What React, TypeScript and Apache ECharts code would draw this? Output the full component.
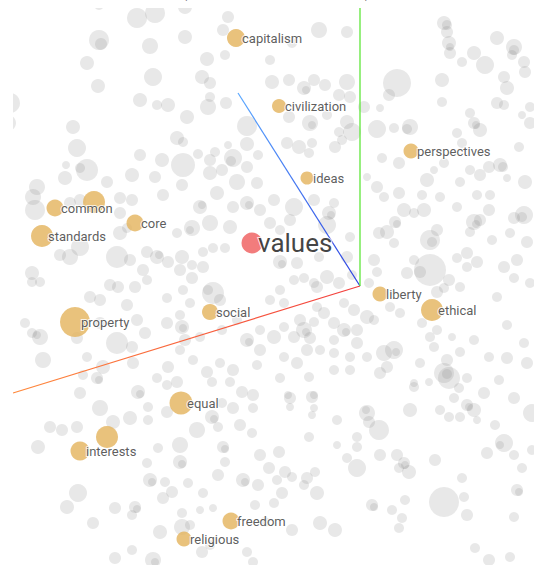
import React, { useEffect, useRef } from "react";
import * as echarts from "echarts";

// Highlighted words (nearest neighbours), pixel-space projection coordinates
const wordNames = ["capitalism", "civilization", "perspectives", "ideas", "common", "", "standards", "core", "liberty", "ethical", "property", "social", "equal", "interests", "", "freedom", "religious"];
const wordX = [236, 279, 411, 307, 55, 94, 42, 135, 380, 432, 75, 210, 181, 80, 107, 231, 184];
const wordY = [38, 106, 151, 178, 208, 202, 236, 223, 294, 310, 322, 312, 403, 451, 437, 521, 539];
const wordSize = [18, 14, 15, 13, 17, 22, 22, 17, 15, 22, 30, 16, 23, 19, 22, 17, 15];

// The query word
const queryName = "values";
const queryPoint = [252, 243];
const querySize = 21;

// Projection axes (pixel space)
const axisOrigin = [360, 286];
const axisXEnd = [13, 393];
const axisYEnd = [238, 93];
const axisZEnd = [360, 8];

// Background points: [x, y, diameter]
const greyDots: number[][] = [
  [99, 5, 10], [137, 18, 20], [155, 13, 20], [185, 7, 14], [228, 17, 12], [223, 30, 12], [99, 40, 20], [101, 44, 12],
  [150, 46, 16], [185, 37, 14], [87, 63, 14], [207, 59, 14], [225, 55, 10], [153, 77, 18], [202, 77, 14], [210, 83, 12],
  [98, 86, 14], [140, 100, 14], [157, 105, 10], [168, 105, 14], [208, 107, 16], [210, 97, 10], [226, 103, 12], [10, 103, 20],
  [8, 123, 16], [187, 117, 14], [73, 127, 14], [247, 126, 20], [177, 138, 14], [183, 142, 10], [77, 148, 18], [140, 155, 12],
  [162, 160, 14], [183, 165, 24], [198, 154, 10], [215, 152, 10], [228, 145, 8], [247, 144, 14], [233, 158, 18], [231, 161, 10],
  [210, 160, 12], [66, 165, 8], [87, 170, 22], [80, 168, 10], [65, 178, 14], [37, 187, 16], [107, 182, 12], [132, 175, 14],
  [155, 177, 12], [210, 173, 14], [222, 170, 12], [237, 182, 16], [247, 167, 12], [258, 155, 10], [257, 183, 12], [182, 185, 12],
  [319, 30, 16], [347, 32, 12], [292, 43, 10], [270, 60, 10], [272, 82, 14], [289, 80, 12], [304, 88, 14], [306, 90, 8],
  [314, 80, 12], [325, 85, 12], [347, 82, 16], [339, 95, 12], [350, 97, 12], [364, 107, 12], [380, 108, 8], [397, 83, 28],
  [389, 95, 12], [289, 117, 12], [310, 123, 16], [312, 125, 8], [327, 115, 10], [347, 122, 14], [352, 132, 18], [339, 132, 10],
  [377, 129, 18], [394, 128, 10], [410, 127, 16], [407, 129, 10], [287, 143, 12], [299, 147, 14], [312, 143, 10], [335, 147, 12],
  [342, 140, 10], [309, 153, 10], [382, 158, 10], [399, 163, 12], [444, 23, 14], [447, 25, 10], [447, 32, 12], [449, 43, 14],
  [450, 47, 8], [450, 53, 12], [462, 62, 10], [474, 53, 14], [485, 65, 18], [497, 38, 14], [514, 47, 16], [514, 50, 10],
  [512, 55, 10], [524, 62, 12], [525, 72, 12], [504, 77, 12], [507, 88, 14], [442, 80, 14], [442, 102, 10], [497, 103, 12],
  [504, 105, 10], [530, 107, 10], [522, 115, 8], [470, 113, 10], [474, 123, 12], [476, 125, 8], [480, 130, 14], [457, 133, 10],
  [462, 143, 10], [530, 123, 12], [519, 147, 10], [500, 165, 14], [503, 167, 10], [489, 167, 12], [480, 175, 12], [470, 170, 10],
  [444, 163, 10], [434, 170, 8], [427, 180, 14], [460, 182, 10], [525, 182, 14], [507, 178, 8], [377, 187, 12], [367, 177, 8],
  [33, 197, 16], [35, 210, 20], [70, 203, 12], [80, 200, 12], [120, 198, 12], [132, 200, 12], [120, 213, 12], [120, 233, 14],
  [127, 228, 10], [80, 247, 18], [70, 257, 16], [60, 255, 12], [117, 257, 22], [130, 260, 12], [147, 252, 12], [157, 257, 14],
  [159, 255, 8], [168, 262, 12], [182, 257, 14], [143, 270, 12], [180, 270, 12], [192, 265, 10], [203, 252, 10], [213, 248, 10],
  [225, 248, 10], [203, 267, 12], [177, 233, 10], [192, 228, 16], [190, 230, 8], [210, 223, 16], [230, 227, 14], [200, 207, 14],
  [202, 205, 8], [217, 193, 14], [233, 207, 12], [247, 203, 14], [249, 205, 8], [260, 210, 12], [163, 195, 12], [32, 273, 14],
  [40, 282, 10], [32, 282, 10], [110, 285, 12], [118, 287, 12], [90, 297, 12], [100, 300, 12], [135, 287, 12], [147, 280, 10],
  [127, 305, 12], [167, 298, 10], [183, 290, 10], [192, 278, 12], [190, 303, 10], [213, 293, 22], [208, 290, 10], [220, 300, 12],
  [180, 315, 10], [25, 323, 10], [40, 337, 16], [37, 335, 8], [32, 333, 10], [77, 338, 12], [100, 323, 12], [117, 343, 22],
  [132, 347, 12], [137, 320, 12], [145, 333, 12], [167, 323, 12], [182, 327, 14], [183, 328, 8], [185, 340, 12], [200, 337, 10],
  [222, 330, 10], [237, 320, 10], [247, 340, 14], [249, 342, 8], [260, 330, 10], [260, 350, 12], [43, 360, 16], [87, 357, 10],
  [103, 367, 14], [133, 363, 12], [168, 367, 12], [180, 350, 10], [193, 360, 10], [207, 372, 12], [220, 363, 10], [233, 370, 12],
  [257, 365, 10], [83, 375, 10],
  [274, 200, 12], [294, 207, 18], [314, 200, 12], [329, 213, 14], [331, 215, 8], [334, 203, 10], [327, 225, 18], [270, 223, 12],
  [280, 230, 10], [290, 220, 12], [350, 237, 10], [347, 257, 12], [280, 262, 14], [282, 264, 8], [297, 263, 12], [319, 257, 10],
  [327, 277, 14], [339, 283, 12], [352, 275, 10], [317, 287, 12], [304, 278, 10], [280, 290, 10], [294, 280, 10], [374, 260, 12],
  [377, 272, 10], [369, 283, 10], [387, 232, 14], [395, 222, 12], [397, 224, 8], [394, 243, 10], [379, 233, 12], [404, 210, 14],
  [414, 213, 10], [424, 210, 14], [430, 240, 20], [432, 242, 10], [437, 230, 12], [430, 270, 32], [414, 260, 10], [407, 273, 12],
  [420, 272, 12], [449, 280, 12], [444, 288, 10], [460, 287, 10], [437, 292, 12], [457, 258, 10], [467, 267, 10], [477, 262, 12],
  [467, 253, 12], [474, 222, 16], [476, 224, 8], [480, 220, 12], [489, 210, 12], [490, 195, 10], [477, 195, 10], [457, 207, 10],
  [440, 197, 10], [422, 195, 10], [399, 193, 12], [384, 197, 10], [470, 232, 10], [492, 240, 10], [510, 233, 10], [524, 215, 18],
  [522, 217, 10], [514, 218, 12], [514, 278, 10], [530, 283, 10], [517, 260, 12], [504, 267, 12], [527, 242, 12], [497, 297, 10],
  [507, 325, 10], [524, 343, 10], [527, 363, 12], [489, 357, 10], [507, 358, 12], [474, 340, 10], [460, 352, 10], [452, 337, 8],
  [437, 330, 10], [422, 323, 10], [430, 337, 10], [434, 347, 10], [447, 360, 12], [444, 373, 20], [400, 313, 10], [390, 307, 10],
  [374, 320, 10], [367, 317, 14], [354, 310, 12], [344, 303, 10], [334, 323, 12], [357, 330, 12], [344, 330, 14], [346, 332, 8],
  [357, 343, 12], [334, 340, 10], [324, 313, 12], [314, 322, 10], [317, 307, 10], [300, 320, 12], [304, 330, 16], [306, 332, 8],
  [310, 338, 12], [294, 337, 12], [284, 327, 10], [274, 337, 14], [307, 350, 12], [320, 350, 10], [334, 353, 10], [350, 357, 10],
  [394, 350, 18], [396, 352, 8], [384, 353, 16], [387, 367, 12], [367, 357, 10], [380, 373, 12], [297, 363, 12], [284, 357, 10],
  [334, 370, 10], [350, 370, 10], [420, 363, 10], [314, 283, 10], [284, 303, 10], [270, 300, 10],
  [97, 378, 12], [99, 380, 8], [80, 393, 12], [138, 392, 14], [140, 394, 8], [157, 378, 10], [167, 385, 10], [177, 382, 12],
  [100, 408, 16], [113, 422, 14], [130, 418, 14], [148, 407, 10], [148, 420, 10], [167, 412, 12], [50, 427, 12], [62, 430, 12],
  [77, 427, 12], [38, 447, 14], [197, 430, 16], [212, 417, 14], [214, 419, 8], [222, 403, 10], [233, 408, 12], [242, 392, 12],
  [253, 395, 12], [253, 408, 10], [230, 382, 10], [212, 382, 10], [218, 427, 10], [240, 425, 12], [252, 433, 10], [180, 445, 16],
  [158, 448, 10], [147, 463, 10], [180, 462, 14], [182, 464, 8], [223, 447, 12], [225, 449, 8], [225, 462, 10], [260, 455, 12],
  [150, 480, 14], [152, 482, 8], [165, 482, 10], [188, 483, 10], [218, 475, 12], [243, 480, 14], [245, 482, 8], [258, 485, 12],
  [78, 493, 18], [67, 507, 14], [93, 523, 12], [115, 508, 12], [135, 507, 12], [137, 509, 8], [132, 515, 10], [163, 498, 12],
  [172, 492, 12], [203, 493, 10], [182, 513, 10], [200, 510, 8], [213, 508, 8], [160, 532, 14], [182, 527, 16], [190, 525, 10],
  [132, 550, 10], [115, 558, 12], [153, 560, 16], [155, 562, 8], [202, 552, 12], [210, 545, 10], [247, 552, 10], [253, 562, 10],
  [255, 505, 10], [265, 522, 10],
  [280, 378, 10], [309, 377, 10], [290, 398, 12], [288, 395, 8], [312, 397, 12], [314, 395, 8], [314, 408, 8], [312, 415, 8],
  [290, 407, 8], [337, 420, 10], [367, 413, 16], [366, 410, 8], [369, 422, 12], [379, 430, 20], [357, 437, 10], [337, 445, 8],
  [357, 447, 10], [347, 458, 10], [357, 468, 18], [380, 455, 12], [397, 455, 12], [404, 463, 12], [405, 465, 8], [409, 472, 14],
  [399, 468, 10], [435, 460, 12], [309, 437, 10], [279, 452, 12], [269, 468, 12], [285, 472, 12], [292, 477, 10], [277, 480, 10],
  [307, 478, 12], [315, 472, 10], [304, 485, 10], [317, 493, 14], [282, 493, 12], [274, 503, 10], [292, 530, 12], [320, 523, 14],
  [335, 530, 14], [372, 505, 12], [374, 507, 8], [392, 510, 10], [405, 500, 10], [402, 518, 10], [399, 528, 10], [444, 502, 30],
  [467, 515, 12], [462, 478, 10], [464, 497, 10], [410, 410, 14], [414, 383, 8], [429, 382, 8], [440, 410, 10], [449, 417, 10],
  [454, 398, 10], [460, 417, 10], [467, 405, 12], [469, 407, 8], [474, 410, 14], [477, 420, 8], [449, 378, 22], [447, 374, 10],
  [459, 388, 10], [484, 393, 12], [467, 378, 10], [499, 380, 10], [514, 398, 12], [495, 425, 10], [504, 443, 18], [500, 445, 8],
  [487, 453, 12], [514, 455, 10], [522, 468, 10], [532, 413, 18], [532, 450, 10], [517, 490, 12], [519, 492, 8], [514, 517, 10],
  [475, 548, 10], [489, 560, 12], [510, 557, 10], [414, 387, 10]
];

export default function App() {
  const ref = useRef<HTMLDivElement>(null);
  useEffect(() => {
    document.body.style.margin = "0";
    const chart = echarts.init(ref.current!, undefined, { renderer: "svg" });
    const wordData = wordNames.map((n, i) => ({ name: n, value: [wordX[i], wordY[i], wordSize[i]] }));
    const labelFont = "Roboto, 'Noto Sans', sans-serif";
    chart.setOption({
      animation: false,
      backgroundColor: "#ffffff",
      grid: { left: 0, right: 0, top: 0, bottom: 0 },
      xAxis: { type: "value", min: 0, max: 534, show: false },
      yAxis: { type: "value", min: 0, max: 565, inverse: true, show: false },
      tooltip: { show: false },
      series: [
        {
          type: "scatter",
          clip: false,
          data: greyDots,
          symbol: "circle",
          symbolSize: (v: number[]) => v[2],
          itemStyle: { color: "rgba(126,126,126,0.22)" },
          z: 1,
        },
        {
          type: "line",
          data: [axisXEnd, axisOrigin],
          symbol: "none",
          lineStyle: {
            width: 1.3,
            color: new echarts.graphic.LinearGradient(0, 0, 1, 0, [
              { offset: 0, color: "#ff8a3c" },
              { offset: 1, color: "#f23e3e" },
            ]),
          },
          z: 2,
        },
        {
          type: "line",
          data: [axisYEnd, axisOrigin],
          symbol: "none",
          lineStyle: {
            width: 1.2,
            color: new echarts.graphic.LinearGradient(0, 0, 0, 1, [
              { offset: 0, color: "#5aa8ff" },
              { offset: 1, color: "#2a3ee0" },
            ]),
          },
          z: 2,
        },
        {
          type: "line",
          data: [axisZEnd, axisOrigin],
          symbol: "none",
          lineStyle: { width: 1.3, color: "#5fe63a" },
          z: 2,
        },
        {
          type: "scatter",
          clip: false,
          data: wordData,
          symbol: "circle",
          symbolSize: (v: number[]) => v[2],
          itemStyle: { color: "#e4b35b" },
          z: 3,
        },
        {
          type: "scatter",
          clip: false,
          data: [{ name: queryName, value: [queryPoint[0], queryPoint[1], querySize] }],
          symbol: "circle",
          symbolSize: (v: number[]) => v[2],
          itemStyle: { color: "#ef5b5b" },
          z: 3,
        },
        {
          type: "scatter",
          clip: false,
          data: wordData.filter((d) => d.name !== ""),
          symbolSize: 0,
          itemStyle: { color: "transparent" },
          label: {
            show: true,
            position: "right",
            distance: 6,
            formatter: "{b}",
            fontFamily: labelFont,
            fontSize: 13,
            color: "#333333",
            textBorderColor: "#ffffff",
            textBorderWidth: 2,
          },
          z: 4,
        },
        {
          type: "scatter",
          clip: false,
          data: [{ name: queryName, value: [queryPoint[0], queryPoint[1]] }],
          symbolSize: 0,
          itemStyle: { color: "transparent" },
          label: {
            show: true,
            position: "right",
            distance: 6,
            formatter: "{b}",
            fontFamily: labelFont,
            fontSize: 26,
            color: "#111111",
            textBorderColor: "#ffffff",
            textBorderWidth: 2,
          },
          z: 4,
        },
      ],
      graphic: [
        { type: "rect", shape: { x: 0, y: 0, width: 534, height: 8 }, style: { fill: "#ffffff" }, z: 100 },
        { type: "rect", shape: { x: 0, y: 0, width: 13, height: 565 }, style: { fill: "#ffffff" }, z: 100 },
        { type: "text", x: 183, y: -12, style: { text: "(", fontSize: 12, fontFamily: labelFont, fill: "#555555", textVerticalAlign: "top" }, z: 101 },
        { type: "text", x: 365, y: -12, style: { text: ")", fontSize: 12, fontFamily: labelFont, fill: "#555555", textVerticalAlign: "top" }, z: 101 },
      ],
    });
    return () => chart.dispose();
  }, []);
  return <div ref={ref} style={{ width: 534, height: 565 }} />;
}
